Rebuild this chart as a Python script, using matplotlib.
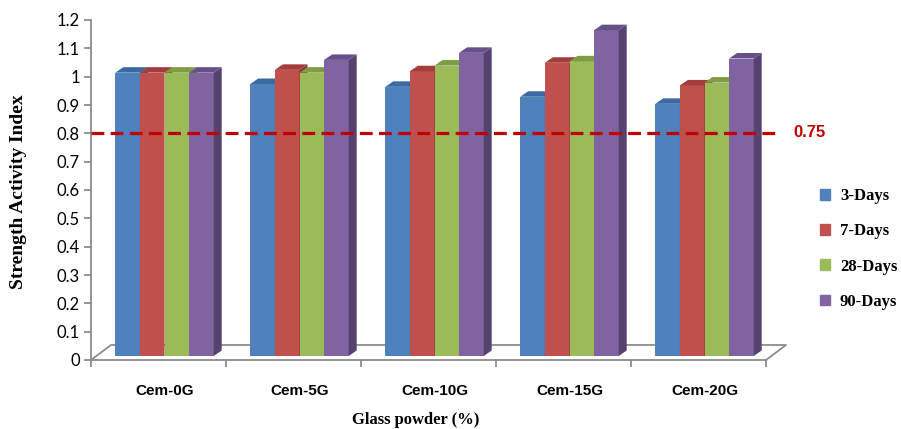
import numpy as np
import matplotlib.pyplot as plt
from matplotlib.patches import Polygon, Patch

categories = ["Cem-0G", "Cem-5G", "Cem-10G", "Cem-15G", "Cem-20G"]
ages = ["3-Days", "7-Days", "28-Days", "90-Days"]
sai_3d = [1.00, 0.96, 0.95, 0.915, 0.89]
sai_7d = [1.00, 1.01, 1.005, 1.035, 0.955]
sai_28d = [1.00, 1.00, 1.025, 1.04, 0.965]
sai_90d = [1.00, 1.045, 1.07, 1.15, 1.05]
threshold = 0.75

series = [sai_3d, sai_7d, sai_28d, sai_90d]
front = ["#4F81BD", "#C0504D", "#9BBB59", "#8064A2"]
top = ["#3C69A0", "#A33D3A", "#7E9C42", "#66508A"]
side = ["#3A5F8E", "#8E3432", "#6E8A38", "#56426F"]

fig = plt.figure(figsize=(9.01, 4.29), dpi=100)
ax = fig.add_axes([91 / 901, 69 / 429, 675 / 901, 340 / 429])
ax.set_xlim(0, 5)
ax.set_ylim(0, 1.2)

# pixel -> data helpers for the fake 3-D depth
px_x = 675 / 5
px_y = 340 / 1.2
lift_x, lift_y = 6 / px_x, 4 / px_y          # bars stand a little into the floor
wall_x, wall_y = 20 / px_x, 15 / px_y        # back edge of the floor
cap_x, cap_y = 8 / px_x, 5.5 / px_y          # bar depth
w = 24.6 / px_x

grey = "#8C8C8C"

# floor
ax.plot([0, wall_x, 5 + wall_x, 5], [0, wall_y, wall_y, 0],
        color=grey, lw=1.3, clip_on=False, zorder=1)

idx = np.arange(len(categories))
for k, vals in enumerate(series):
    xs = idx + 0.5 + lift_x + (k - 2) * w
    ax.bar(xs, vals, width=w, bottom=lift_y, align="edge",
           color=front[k], linewidth=0, zorder=2)
    for x0, v in zip(xs, vals):
        t = v + lift_y
        x1 = x0 + w
        ax.add_patch(Polygon([(x1, lift_y), (x1, t), (x1 + cap_x, t + cap_y),
                              (x1 + cap_x, lift_y + cap_y)],
                             closed=True, color=side[k], lw=0, zorder=2))
        ax.add_patch(Polygon([(x0, t), (x0 + cap_x, t + cap_y),
                              (x1 + cap_x, t + cap_y), (x1, t)],
                             closed=True, color=top[k], lw=0, zorder=2))

# 0.75 reference line on the back wall
ax.plot([0, 5.1], [threshold + wall_y] * 2, color="#C00000", lw=2.3,
        dashes=(4, 2), clip_on=False, zorder=5)
ax.text(5.2, threshold + wall_y, f"{threshold:.2f}", color="#C00000",
        fontsize=12, fontweight="bold", family="Liberation Sans",
        va="center", ha="left", clip_on=False)

for s in ["top", "right"]:
    ax.spines[s].set_visible(False)
ax.spines["left"].set_color(grey)
ax.spines["bottom"].set_color(grey)
ax.spines["left"].set_linewidth(1.3)
ax.spines["bottom"].set_linewidth(1.3)

ax.set_yticks(np.arange(0, 1.21, 0.1))
ax.set_yticklabels(["0", "0.1", "0.2", "0.3", "0.4", "0.5", "0.6",
                    "0.7", "0.8", "0.9", "1", "1.1", "1.2"],
                   family="Lato", fontsize=12)
ax.tick_params(axis="y", length=5, width=1.3, color=grey, pad=3)

ax.set_xticks(range(6))
ax.set_xticklabels([])
ax.tick_params(axis="x", which="major", length=5, width=1.3, color=grey)
ax.set_xticks(idx + 0.5 + lift_x, minor=True)
ax.set_xticklabels(categories, minor=True, fontsize=11, fontweight="bold",
                   family="Liberation Sans")
ax.tick_params(axis="x", which="minor", length=0, pad=17)

fig.text(416 / 901, 1 - 420 / 429, "Glass powder (%)", ha="center", va="center",
         fontsize=12, fontweight="bold", family="Liberation Serif")
fig.text(19 / 901, 1 - 192 / 429, "Strength Activity Index", ha="center",
         va="center", rotation=90, fontsize=14, fontweight="bold",
         family="Liberation Serif")

handles = [Patch(color=c) for c in front]
fig.legend(handles, ages, loc="center left", bbox_to_anchor=(820 / 901, 1 - 249 / 429),
           bbox_transform=fig.transFigure, frameon=False, borderpad=0,
           borderaxespad=0, handlelength=0.6, handleheight=0.6, handletextpad=0.6,
           labelspacing=1.15, prop={"family": "Liberation Serif", "weight": "bold", "size": 12})

fig.savefig("out.png", dpi=100)
